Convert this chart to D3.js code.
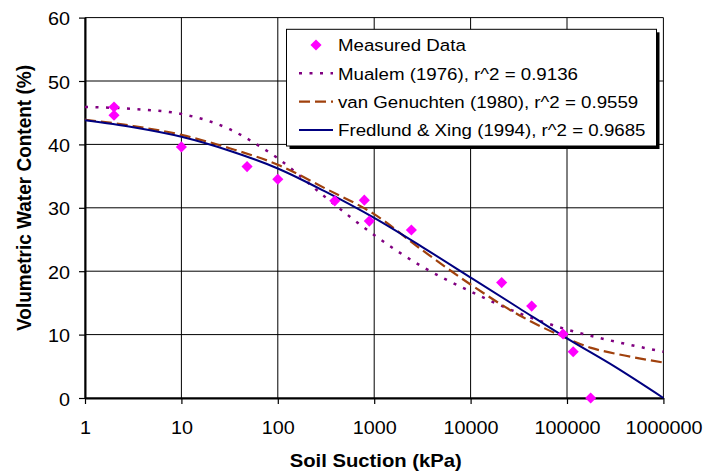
<!DOCTYPE html>
<html>
<head>
<meta charset="utf-8">
<script src="https://cdn.jsdelivr.net/npm/d3@7"></script>
<style>
  html, body { margin: 0; padding: 0; background: #fff; }
  svg { display: block; }
  text { font-family: "Liberation Sans", Arial, sans-serif; fill: #000; }
</style>
</head>
<body>
<svg id="chart" width="721" height="474"></svg>
<script>
// ---------- data ----------
const measuredSuction = [2, 2, 10, 48, 100, 390, 790, 890, 2430, 21000, 43000, 91000, 116000, 176000];
const measuredWater   = [45.9, 44.6, 39.6, 36.5, 34.5, 31.1, 31.2, 27.9, 26.5, 18.2, 14.5, 10.1, 7.3, 0];

const mualemSuction = [1, 3.16, 10, 17.8, 31.6, 56.2, 100, 316, 1000, 3162, 10000, 31623, 100000, 316228, 1000000];
const mualemWater   = [45.9, 45.6, 44.8, 43.85, 42.4, 40.3, 37.8, 31.6, 25.7, 20.7, 16.8, 13.4, 10.8, 8.9, 7.3];

const vgSuction = [1, 3.16, 10, 31.6, 100, 316, 1000, 3162, 10000, 31623, 100000, 177828, 316228, 1000000];
const vgWater   = [43.9, 42.9, 41.5, 39.4, 36.8, 33.0, 29.0, 23.3, 17.9, 13.1, 9.4, 7.9, 7.0, 5.6];

const fxSuction = [1, 3.16, 10, 31.6, 100, 316, 1000, 3162, 10000, 31623, 100000, 316228, 1000000];
const fxWater   = [43.8, 42.7, 41.2, 39.0, 36.2, 32.5, 28.4, 23.8, 19.0, 14.2, 9.4, 4.9, 0];

const xTicks = [1, 10, 100, 1000, 10000, 100000, 1000000];
const xTickLabels = ["1", "10", "100", "1000", "10000", "100000", "1000000"];
const yTicks = [0, 10, 20, 30, 40, 50, 60];

const legendLabels = [
  "Measured Data",
  "Mualem (1976), r^2 = 0.9136",
  "van Genuchten (1980), r^2 = 0.9559",
  "Fredlund & Xing (1994), r^2 = 0.9685"
];
const xTitle = "Soil Suction (kPa)";
const yTitle = "Volumetric Water Content (%)";

// ---------- layout ----------
const svg = d3.select("#chart");
const L = 85, R = 663.4, T = 17.6, B = 398;
const SX = 1.1; // horizontal stretch of text in the reference

const x = d3.scaleLog().domain([1, 1e6]).range([L, R]);
const y = d3.scaleLinear().domain([0, 60]).range([B, T]);

// grid
const grid = svg.append("g");
grid.selectAll("line.v").data(xTicks).join("line")
  .attr("x1", d => x(d)).attr("x2", d => x(d))
  .attr("y1", T).attr("y2", B)
  .attr("stroke", "#000").attr("stroke-width", 1);
grid.selectAll("line.h").data(yTicks).join("line")
  .attr("x1", L).attr("x2", R)
  .attr("y1", d => y(d)).attr("y2", d => y(d))
  .attr("stroke", "#000").attr("stroke-width", 1);

// axes
const xAxis = svg.append("g").attr("transform", `translate(0,${B})`)
  .call(d3.axisBottom(x).tickValues(xTicks).tickFormat((d, i) => xTickLabels[i]).tickSize(6).tickSizeOuter(0));
const yAxis = svg.append("g").attr("transform", `translate(${L},0)`)
  .call(d3.axisLeft(y).tickValues(yTicks).tickSize(6).tickSizeOuter(0));

[xAxis, yAxis].forEach(g => {
  g.select(".domain").attr("stroke", "#000").attr("stroke-width", 2);
  g.selectAll(".tick line").attr("stroke", "#000").attr("stroke-width", 1.2);
  g.selectAll(".tick text")
    .style("font-family", '"Liberation Sans", Arial, sans-serif')
    .style("font-size", "18px").attr("fill", "#000");
});
xAxis.selectAll(".tick text").attr("y", 36.5).attr("dy", null)
  .attr("transform", `scale(${SX},1)`);
yAxis.selectAll(".tick text").attr("x", -15 / SX).attr("y", 7).attr("dy", null)
  .attr("transform", `scale(${SX},1)`);

// axis titles
svg.append("text")
  .attr("transform", `translate(${(L + R) / 2 + 1.5},466.5) scale(${SX},1)`)
  .attr("text-anchor", "middle")
  .style("font-size", "18.4px").style("font-weight", "bold")
  .text(xTitle);
svg.append("text")
  .attr("transform", `translate(30.5,198) scale(${SX},1) rotate(-90)`)
  .attr("text-anchor", "middle")
  .style("font-size", "19px").style("font-weight", "bold")
  .text(yTitle);

// curves
const line = d3.line().x(d => x(d[0])).y(d => y(d[1])).curve(d3.curveMonotoneX);
const zip = (a, b) => a.map((v, i) => [v, b[i]]);

const styles = {
  mualem: { stroke: "#800080", width: 2.5, dash: "3,7.5" },
  vg:     { stroke: "#A0410D", width: 2.2, dash: "11,5" },
  fx:     { stroke: "#000080", width: 2, dash: null }
};

svg.append("path").datum(zip(mualemSuction, mualemWater))
  .attr("d", line).attr("fill", "none")
  .attr("stroke", styles.mualem.stroke).attr("stroke-width", styles.mualem.width)
  .attr("stroke-dasharray", styles.mualem.dash);
svg.append("path").datum(zip(vgSuction, vgWater))
  .attr("d", line).attr("fill", "none")
  .attr("stroke", styles.vg.stroke).attr("stroke-width", styles.vg.width)
  .attr("stroke-dasharray", styles.vg.dash);
svg.append("path").datum(zip(fxSuction, fxWater))
  .attr("d", line).attr("fill", "none")
  .attr("stroke", styles.fx.stroke).attr("stroke-width", styles.fx.width);

// measured markers
const diamond = d3.symbol().type(d3.symbolSquare).size(62)();
svg.append("g").selectAll("path").data(zip(measuredSuction, measuredWater)).join("path")
  .attr("d", diamond)
  .attr("transform", d => `translate(${x(d[0])},${y(d[1])}) rotate(45)`)
  .attr("fill", "#FF00FF");

// legend
const lg = svg.append("g");
const lx0 = 286.5, ly0 = 29.3, lw = 370, lh = 116.7;
lg.append("rect").attr("x", lx0 + 3).attr("y", ly0 + 3).attr("width", lw).attr("height", lh).attr("fill", "#000");
lg.append("rect").attr("x", lx0).attr("y", ly0).attr("width", lw).attr("height", lh)
  .attr("fill", "#fff").attr("stroke", "#000").attr("stroke-width", 1);

const rowY = [45, 73.3, 101.7, 130];
const symX1 = 299, symX2 = 333, textX = 338;
lg.append("path").attr("d", diamond)
  .attr("transform", `translate(${(symX1 + symX2) / 2},${rowY[0]}) rotate(45)`)
  .attr("fill", "#FF00FF");
const lineKeys = ["mualem", "vg", "fx"];
lineKeys.forEach((k, i) => {
  const s = styles[k];
  lg.append("line").attr("x1", symX1).attr("x2", symX2)
    .attr("y1", rowY[i + 1]).attr("y2", rowY[i + 1])
    .attr("stroke", s.stroke).attr("stroke-width", s.width)
    .attr("stroke-dasharray", s.dash);
});
legendLabels.forEach((t, i) => {
  lg.append("text")
    .attr("transform", `translate(${textX},${rowY[i] + 6.2}) scale(${SX},1)`)
    .style("font-size", "17px")
    .text(t);
});
</script>
</body>
</html>
